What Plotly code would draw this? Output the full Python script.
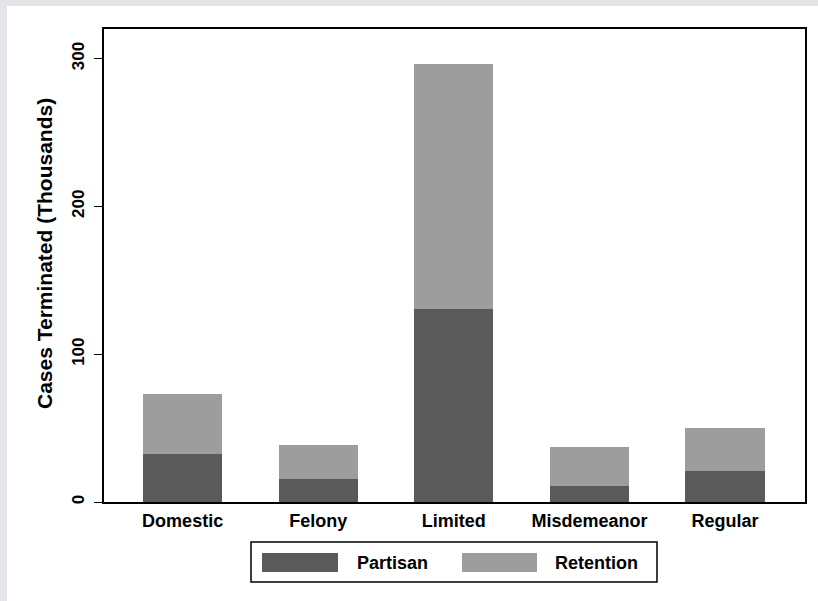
import plotly.graph_objects as go

# Cases terminated (thousands) by case type, split by selection system
categories = ["Domestic", "Felony", "Limited", "Misdemeanor", "Regular"]
partisan = [32.5, 15.6, 130.5, 10.8, 21.0]
retention_total = [73.1, 38.6, 296.5, 37.2, 50.1]
retention = [t - p for t, p in zip(retention_total, partisan)]
y_ticks = [0, 100, 200, 300]

series_names = ["Partisan", "Retention"]
series_colors = ["#5a5a5a", "#9d9d9d"]

W, H = 818, 601
L, R, T, B = 104, 13, 29, 99
PW, PH = W - L - R, H - T - B

font_family = "Liberation Sans, Arial, sans-serif"

fig = go.Figure()
for name, vals, col in zip(series_names, [partisan, retention], series_colors):
    fig.add_trace(go.Bar(
        x=categories, y=vals, name=name, width=0.583,
        marker=dict(color=col, line=dict(width=0)),
        showlegend=False,
    ))


def px_x(p):
    return (p - L) / PW


def px_y(p):
    return (H - B - p) / PH


shapes = [
    # grey band along the top and left edges of the canvas
    dict(type="rect", xref="paper", yref="paper", x0=px_x(0), x1=px_x(W),
         y0=px_y(6), y1=px_y(0), fillcolor="#e4e5e8", line=dict(width=0), layer="below"),
    dict(type="rect", xref="paper", yref="paper", x0=px_x(0), x1=px_x(7),
         y0=px_y(H), y1=px_y(0), fillcolor="#e4e5e8", line=dict(width=0), layer="below"),
    # legend frame
    dict(type="rect", xref="paper", yref="paper", x0=px_x(251), x1=px_x(657),
         y0=px_y(582), y1=px_y(542), fillcolor="white",
         line=dict(color="black", width=1.5)),
]
annotations = []
legend_items = [(262, 338, 355), (462, 537, 553)]
for (sx0, sx1, tx), name, col in zip(legend_items, series_names, series_colors):
    shapes.append(dict(type="rect", xref="paper", yref="paper",
                       x0=px_x(sx0), x1=px_x(sx1), y0=px_y(572), y1=px_y(553),
                       fillcolor=col, line=dict(width=0)))
    annotations.append(dict(xref="paper", yref="paper", x=px_x(tx), y=px_y(563),
                            xanchor="left", yanchor="middle", showarrow=False,
                            text=f"<b>{name}</b>",
                            font=dict(family=font_family, size=18, color="black")))

annotations.append(dict(xref="paper", yref="paper", x=px_x(45), y=px_y(254),
                        xanchor="center", yanchor="middle", showarrow=False,
                        textangle=-90, text="<b>Cases Terminated (Thousands)</b>",
                        font=dict(family=font_family, size=21, color="black")))

fig.update_layout(
    barmode="stack",
    width=W, height=H,
    margin=dict(l=L, r=R, t=T, b=B, pad=0),
    paper_bgcolor="white",
    plot_bgcolor="white",
    font=dict(family=font_family, color="black"),
    shapes=shapes,
    annotations=annotations,
    xaxis=dict(
        type="category", range=[-0.58, 4.59],
        showline=True, linecolor="black", linewidth=1.5, mirror=True,
        ticks="", showgrid=False,
        tickmode="array", tickvals=categories,
        ticktext=[f"<b>{c}</b>" for c in categories],
        tickfont=dict(family=font_family, size=18, color="black"),
        ticklabelstandoff=2,
    ),
    yaxis=dict(
        range=[0, 320], tickmode="array", tickvals=y_ticks,
        ticktext=[f"<b>{v}</b>" for v in y_ticks],
        showline=True, linecolor="black", linewidth=1.5, mirror=True,
        ticks="outside", ticklen=8, tickwidth=1.2, tickcolor="black",
        tickangle=-90, showgrid=False, zeroline=False,
        tickfont=dict(family=font_family, size=17, color="black"),
        ticklabelstandoff=3,
    ),
)

fig.write_html("out.html")
